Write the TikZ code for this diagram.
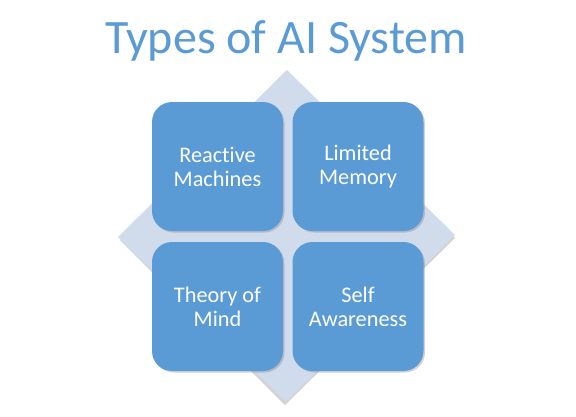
\documentclass[tikz,border=0pt]{standalone}
\usepackage{fontspec}
\setmainfont{Carlito}[RawFeature={-liga;-clig;-calt;-dlig}]
\usetikzlibrary{shadows}
\definecolor{boxblue}{HTML}{5B9BD5}
\definecolor{diamondfill}{HTML}{D0DBEC}
\begin{document}
\begin{tikzpicture}[x=1pt,y=-1pt,
  quad/.style={fill=boxblue, rounded corners=20pt, minimum width=131pt, minimum height=129pt,
    text=white, align=center, font=\fontsize{22.3}{24}\selectfont, inner sep=0pt,
    drop shadow={shadow xshift=1.5pt, shadow yshift=-1.5pt, opacity=0.35, fill=gray}}]
\useasboundingbox (0,0) rectangle (576,416);
% title
\node[text=boxblue, font=\fontsize{48}{52}\selectfont, anchor=base] (title) at (286,53) {Types of AI System};
% diamond with shadow
\fill[gray, opacity=0.35] (285,72) -- (120,240) -- (285,405) -- (455,238) -- cycle;
\fill[diamondfill] (287,70) -- (118,237) -- (286,402) -- (455,235) -- cycle;
% boxes
\node[quad] (rm) at (217.5,166.5) {Reactive\\Machines};
\node[quad] (lm) at (358,166.5) {Limited\\Memory};
\node[quad] (tm) at (217.5,306.5) {Theory of\\Mind};
\node[quad] (sa) at (358,306.5) {Self\\Awareness};
\end{tikzpicture}
\end{document}
